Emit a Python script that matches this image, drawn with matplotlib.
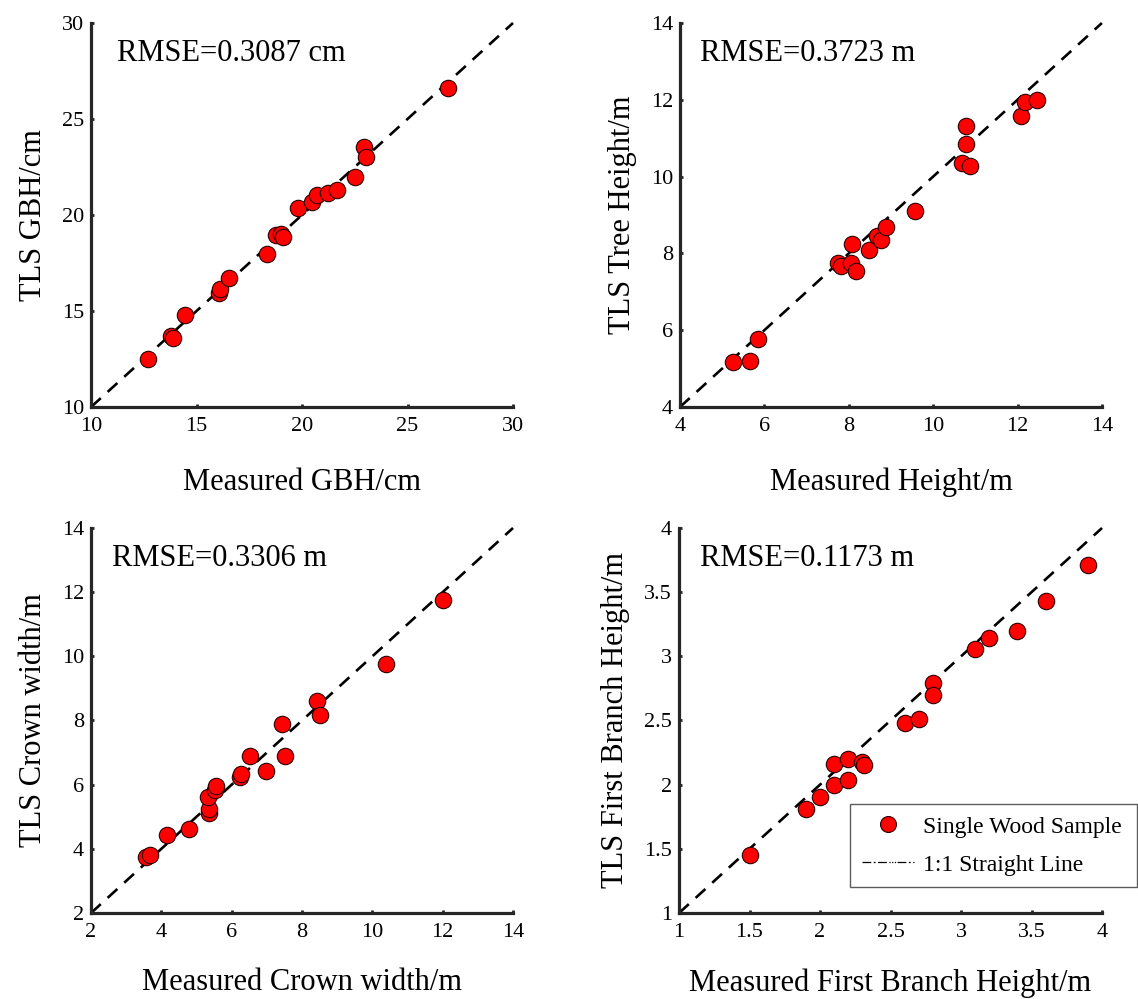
import matplotlib
matplotlib.use("Agg")
import matplotlib.pyplot as plt
from matplotlib.lines import Line2D

plt.rcParams['font.family'] = ['Liberation Serif', 'DejaVu Serif']

# ---- data ----
gbh_meas = [12.7, 13.8, 13.9, 14.45, 16.05, 16.1, 16.55, 18.35, 18.75, 19.0, 19.1,
            19.8, 20.45, 20.7, 21.25, 21.65, 22.5, 22.95, 23.05, 26.9]
gbh_tls = [12.5, 13.7, 13.6, 14.8, 15.95, 16.15, 16.7, 17.95, 18.95, 19.0, 18.85,
           20.35, 20.7, 21.05, 21.15, 21.3, 22.0, 23.55, 23.0, 26.6]

height_meas = [5.26, 5.66, 5.86, 7.75, 7.82, 8.07, 8.05, 8.17, 8.47, 8.68, 8.77,
               8.88, 9.57, 10.68, 10.88, 10.78, 10.78, 12.08, 12.17, 12.47]
height_tls = [5.17, 5.21, 5.77, 7.75, 7.68, 8.25, 7.76, 7.53, 8.08, 8.45, 8.35,
              8.7, 9.11, 10.35, 10.28, 10.86, 11.33, 11.58, 11.93, 11.99]

crown_meas = [3.55, 3.68, 4.15, 4.8, 5.36, 5.36, 5.33, 5.52, 5.55, 6.23, 6.27,
              6.52, 6.97, 7.42, 7.51, 8.42, 8.5, 10.4, 12.02]
crown_tls = [3.75, 3.8, 4.44, 4.62, 5.12, 5.25, 5.6, 5.84, 5.95, 6.24, 6.32,
             6.88, 6.42, 7.88, 6.9, 8.62, 8.17, 9.77, 11.77]

branch_meas = [1.5, 1.9, 2.0, 2.1, 2.1, 2.2, 2.2, 2.3, 2.31, 2.6, 2.7,
               2.8, 2.8, 3.1, 3.2, 3.4, 3.6, 3.9]
branch_tls = [1.45, 1.81, 1.9, 2.0, 2.16, 2.2, 2.04, 2.18, 2.15, 2.48, 2.51,
              2.79, 2.7, 3.06, 3.14, 3.2, 3.43, 3.71]

panels = [
    {"x": gbh_meas, "y": gbh_tls, "lim": (10, 30), "ticks": [10, 15, 20, 25, 30],
     "tlabels": ["10", "15", "20", "25", "30"],
     "xlabel": "Measured GBH/cm", "ylabel": "TLS GBH/cm", "rmse": "RMSE=0.3087 cm",
     "rect": [0.0800, 0.5926, 0.3708, 0.3844], "tx": 0.062, "xpad": 23},
    {"x": height_meas, "y": height_tls, "lim": (4, 14), "ticks": [4, 6, 8, 10, 12, 14],
     "tlabels": ["4", "6", "8", "10", "12", "14"],
     "xlabel": "Measured Height/m", "ylabel": "TLS Tree Height/m", "rmse": "RMSE=0.3723 m",
     "rect": [0.5975, 0.5926, 0.3708, 0.3844], "tx": 0.047, "xpad": 23},
    {"x": crown_meas, "y": crown_tls, "lim": (2, 14), "ticks": [2, 4, 6, 8, 10, 12, 14],
     "tlabels": ["2", "4", "6", "8", "10", "12", "14"],
     "xlabel": "Measured Crown width/m", "ylabel": "TLS Crown width/m", "rmse": "RMSE=0.3306 m",
     "rect": [0.0800, 0.0861, 0.3708, 0.3854], "tx": 0.05, "xpad": 19},
    {"x": branch_meas, "y": branch_tls, "lim": (1, 4), "ticks": [1, 1.5, 2, 2.5, 3, 3.5, 4],
     "tlabels": ["1", "1.5", "2", "2.5", "3", "3.5", "4"],
     "xlabel": "Measured First Branch Height/m", "ylabel": "TLS First Branch Height/m",
     "rmse": "RMSE=0.1173 m",
     "rect": [0.5967, 0.0861, 0.3717, 0.3854], "tx": 0.05, "xpad": 19},
]

fig = plt.figure(figsize=(11.38, 9.99), dpi=100)
axis_col = '#262626'

for p in panels:
    ax = fig.add_axes(p["rect"])
    lo, hi = p["lim"]
    ax.plot([lo, hi], [lo, hi], color='black', lw=1.9, linestyle=(0, (5, 3.5)),
            clip_on=False, zorder=2)
    ax.scatter(p["x"], p["y"], s=140, c='#ff0000', edgecolors='#2a0000',
               linewidths=0.8, zorder=3, clip_on=False)
    ax.set_xlim(lo, hi)
    ax.set_ylim(lo, hi)
    ax.set_xticks(p["ticks"])
    ax.set_yticks(p["ticks"])
    ax.set_xticklabels(p["tlabels"])
    ax.set_yticklabels(p["tlabels"])
    for s in ['top', 'right']:
        ax.spines[s].set_visible(False)
    for s in ['left', 'bottom']:
        ax.spines[s].set_linewidth(2.3)
        ax.spines[s].set_color(axis_col)
    ax.tick_params(direction='in', length=2.5, width=2, color=axis_col,
                   labelsize=16, pad=5)
    ax.tick_params(axis='x', pad=7)
    ax.set_xlabel(p["xlabel"], fontsize=22, labelpad=p["xpad"])
    ax.set_ylabel(p["ylabel"], fontsize=22, labelpad=10)
    ax.text(p["tx"], 0.92, p["rmse"], transform=ax.transAxes, fontsize=22,
            va='center', ha='left')

# legend sits in the lower right panel, partly outside its axes
handles = [
    Line2D([], [], linestyle='none', marker='o', markersize=11.5,
           markerfacecolor='#ff0000', markeredgecolor='#2a0000', markeredgewidth=0.8),
    Line2D([], [], color='black', lw=0.9, linestyle=(0, (7, 2, 1.5, 2, 7, 2, 1, 1.2, 1, 1.2, 1, 1.2))),
]
fig.legend(handles, ["Single Wood Sample", "1:1 Straight Line"],
           loc='upper left', bbox_to_anchor=(0.747, 0.111, 0.252, 0.084),
           bbox_transform=fig.transFigure, mode='expand', borderaxespad=0,
           fontsize=17, frameon=True, fancybox=False, edgecolor='#333333',
           handlelength=2.2, handletextpad=0.4, labelspacing=0.7, borderpad=0.5)

plt.savefig("out.png", dpi=100)
